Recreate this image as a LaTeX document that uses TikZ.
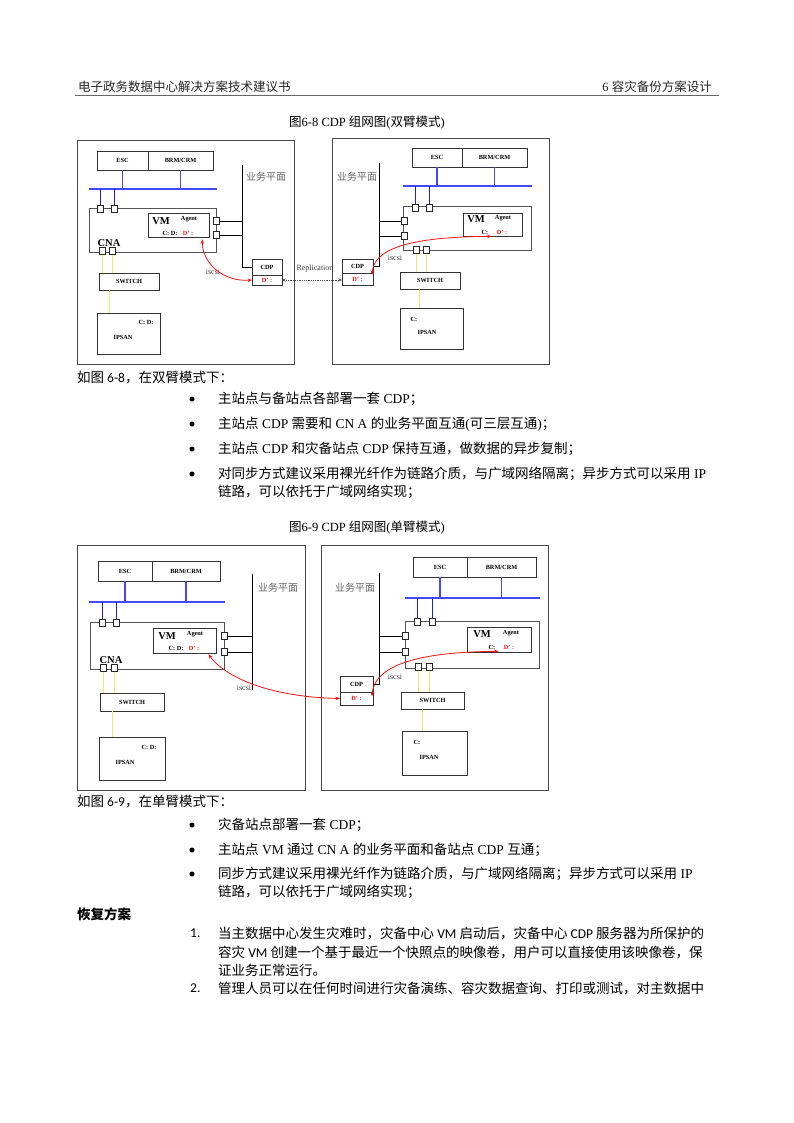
\documentclass[tikz,border=0pt]{standalone}
\usepackage{fontspec}
\setmainfont{Liberation Serif}
\newfontfamily\cjkfont{Noto Sans CJK SC}
\newfontfamily\calfont{Carlito}
\usetikzlibrary{arrows.meta}

\definecolor{buscol}{RGB}{70,70,250}
\definecolor{buscold}{RGB}{30,30,220}
\definecolor{ylwcol}{RGB}{240,232,110}
\definecolor{redcol}{RGB}{240,20,20}

% Latin words inside Chinese text
\newcommand\en[1]{{\rmfamily #1}}
\newcommand\ca[1]{{\calfont #1}}
% rectangle node from its corners: style, name, x1, y1, x2, y2, text
\newcommand\boxat[7]{\node[#1, anchor=north west, minimum width={#5-#3}, minimum height={#6-#4}] (#2) at (#3,#4) {#7};}

\tikzset{
  panel/.style={draw=black!72, line width=0.9, inner sep=0, outer sep=0},
  cell/.style={draw=black!80, line width=0.7, inner sep=0, outer sep=0, font=\bfseries\fontsize{6.3}{7}\selectfont},
  cnabox/.style={draw=black!68, line width=1.0, inner sep=0, outer sep=0},
  port/.style={draw=black!85, fill=white, line width=0.6, minimum width=6, minimum height=7, inner sep=0, outer sep=0},
  lbl/.style={inner sep=0, font=\bfseries\fontsize{6.3}{7}\selectfont},
  big/.style={inner sep=0, font=\bfseries\fontsize{10.5}{11}\selectfont},
  reddt/.style={lbl, text=redcol},
  plane/.style={inner sep=0, font=\cjkfont\fontsize{10}{11}\selectfont, text=black!60},
  smalltxt/.style={inner sep=0, font=\fontsize{8}{9}\selectfont, text=black!75},
  bus/.style={draw=buscol, line width=1.1},
  busd/.style={draw=buscold, line width=0.9},
  blk/.style={draw=black, line width=0.9},
  ylw/.style={draw=ylwcol, line width=0.8},
  redarc/.style={draw=redcol, line width=0.8, {Stealth[length=4.5pt,width=3.5pt]}-{Stealth[length=4.5pt,width=3.5pt]}},
  repl/.style={draw=black!70, line width=0.8, densely dotted, {Stealth[length=3.5pt,width=3pt]}-{Stealth[length=3.5pt,width=3pt]}},
  body/.style={anchor=west, inner sep=0, font=\cjkfont\fontsize{13.5}{16}\selectfont},
  hdr/.style={inner sep=0, font=\cjkfont\fontsize{12.5}{14}\selectfont, text=black!85},
  capt/.style={inner sep=0, font=\cjkfont\fontsize{12.5}{14}\selectfont},
  bul/.style={circle, fill=black, minimum size=5, inner sep=0}
}

\begin{document}
\begin{tikzpicture}[x=1pt, y=-1pt]
\useasboundingbox (0,0) rectangle (794,1123);
\fill[white] (0,0) rectangle (794,1123);

% ---------- running header ----------
\node[hdr, anchor=west] (h1) at (78,87) {电子政务数据中心解决方案技术建议书};
\node[hdr, anchor=east] (h2) at (712,87) {\en{6 }容灾备份方案设计};
\coordinate (hl1) at (75,95);
\coordinate (hl2) at (719,95);
\draw[black!60, line width=0.6] (hl1) -- (hl2);

% ---------- figure 6-8 ----------
\node[capt] (cap1) at (367,123) {图\en{6-8 CDP }组网图\en{(}双臂模式\en{)}};

% main site
\boxat{panel}{o1}{77}{140}{294}{364}{}
\boxat{cell}{e1}{97}{151}{148}{170}{ESC}
\boxat{cell}{m1}{148}{151}{213}{170}{BRM/CRM}
\coordinate (bus1w) at (89,189);
\coordinate (bus1e) at (217,189);
\draw[bus] (bus1w) -- (bus1e);
\draw[bus] (e1.south) -- (e1.south |- bus1w);
\draw[bus] (m1.south) -- (m1.south |- bus1w);
\boxat{cnabox}{n1}{89}{209}{216}{252}{}
\boxat{cell}{v1}{148}{213}{209}{237}{}
\node[port] (t1a) at (100,209) {};
\node[port] (t1b) at (114,209) {};
\draw[busd] (t1a.north |- bus1w) -- (t1a.north);
\draw[busd] (t1b.north |- bus1w) -- (t1b.north);
\node[port] (r1a) at (216,221) {};
\node[port] (r1b) at (216,235) {};
\node[port] (d1a) at (102,251) {};
\node[port] (d1b) at (112,251) {};
\node[big] (vm1) at (161,221) {VM};
\node[lbl] (ag1) at (189,219) {Agent};
\node[lbl] (cd1) at (170,233) {C: D:};
\node[reddt] (dv1) at (188,233) {D’ :};
\node[big] (cna1) at (109,243) {CNA};
\coordinate (z1) at (242,165);
\boxat{cell}{ca1}{252}{259}{282}{275}{CDP}
\boxat{cell, text=redcol}{cb1}{252}{275}{282}{285}{D’ :}
\draw[blk] (z1) |- (ca1.west);
\draw[blk] (r1a.east) -- (r1a.east -| z1);
\draw[blk] (r1b.east) -- (r1b.east -| z1);
\node[plane] (pl1) at (266,177) {业务平面};
\boxat{cell}{s1}{99}{273}{159}{290}{SWITCH}
\draw[ylw] (d1a.south) -- (d1a.south |- s1.north);
\draw[ylw] (d1b.south) -- (d1b.south |- s1.north);
\boxat{cell}{i1}{97}{313}{160}{354}{}
\node[lbl] (icd1) at (146,322) {C: D:};
\node[lbl] (ip1) at (123,337) {IPSAN};
\coordinate (y1) at ([xshift=-20]s1.south);
\draw[ylw] (y1) -- (y1 |- i1.north);
\node[smalltxt] (isc1) at (213,272) {iscsi};
\draw[redarc] ([shift={(9,4)}]dv1.south east) .. controls (202,262) and (222,282) .. (cb1.west);

% backup site
\boxat{panel}{o2}{332}{138}{549}{364}{}
\boxat{cell}{e2}{412}{148}{462}{167}{ESC}
\boxat{cell}{m2}{462}{148}{527}{167}{BRM/CRM}
\coordinate (bus2w) at (403,186);
\coordinate (bus2e) at (532,186);
\draw[bus] (bus2w) -- (bus2e);
\draw[bus] (e2.south) -- (e2.south |- bus2w);
\draw[bus] (m2.south) -- (m2.south |- bus2w);
\boxat{cnabox}{n2}{403}{207}{531}{250}{}
\boxat{cell}{v2}{463}{213}{522}{236}{}
\node[port] (t2a) at (415,208) {};
\node[port] (t2b) at (429,208) {};
\draw[busd] (t2a.north |- bus2w) -- (t2a.north);
\draw[busd] (t2b.north |- bus2w) -- (t2b.north);
\node[port] (l2a) at (404,221) {};
\node[port] (l2b) at (404,236) {};
\node[port] (d2a) at (416,250) {};
\node[port] (d2b) at (426,250) {};
\node[big] (vm2) at (476,219) {VM};
\node[lbl] (ag2) at (503,218) {Agent};
\node[lbl] (cd2) at (485,232) {C:};
\node[reddt] (dv2) at (502,232) {D’ :};
\coordinate (z2) at (379,163);
\boxat{cell}{ca2}{342}{259}{373}{273}{CDP}
\boxat{cell, text=redcol}{cb2}{342}{273}{373}{285}{D’ :}
\draw[blk] (z2) |- (ca2.east);
\draw[blk] (l2a.west) -- (l2a.west -| z2);
\draw[blk] (l2b.west) -- (l2b.west -| z2);
\node[plane] (pl2) at (357,177) {业务平面};
\boxat{cell}{s2}{400}{272}{460}{289}{SWITCH}
\draw[ylw] (d2a.south) -- (d2a.south |- s2.north);
\draw[ylw] (d2b.south) -- (d2b.south |- s2.north);
\boxat{cell}{i2}{400}{308}{463}{349}{}
\node[lbl] (icd2) at (414,319) {C:};
\node[lbl] (ip2) at (427,332) {IPSAN};
\coordinate (y2) at ([xshift=-11]s2.south);
\draw[ylw] (y2) -- (y2 |- i2.north);
\node[smalltxt] (isc2) at (395,258) {iscsi};
\draw[redarc] ([shift={(-1,2)}]cb2.north east) .. controls (374,250) and (405,237) .. ([shift={(-5,2)}]dv2.south west);

% replication between the two CDP servers
\draw[repl] (cb1.east) -- (cb1.east -| cb2.west);
\node[smalltxt] (rep) at (315,269) {Replication};

% ---------- text after figure 6-8 ----------
\node[body] (p1) at (77,378) {如图 \ca{6-8}，在双臂模式下：};
\node[bul] (b1) at (192,399) {};
\node[body] (p2) at (218,399) {主站点与备站点各部署一套\en{ CDP}；};
\node[bul] (b2) at (192,424) {};
\node[body] (p3) at (218,424) {主站点\en{ CDP }需要和\en{ CN A }的业务平面互通\en{(}可三层互通\en{)}；};
\node[bul] (b3) at (192,449) {};
\node[body] (p4) at (218,449) {主站点\en{ CDP }和灾备站点\en{ CDP }保持互通，做数据的异步复制；};
\node[bul] (b4) at (192,474) {};
\node[body] (p5) at (218,474) {对同步方式建议采用裸光纤作为链路介质，与广域网络隔离；异步方式可以采用\en{ IP}};
\node[body] (p6) at (218,492) {链路，可以依托于广域网络实现；};

% ---------- figure 6-9 ----------
\node[capt] (cap2) at (367,528) {图\en{6-9 CDP }组网图\en{(}单臂模式\en{)}};

% main site
\boxat{panel}{o3}{77}{545}{305}{790}{}
\boxat{cell}{e3}{98}{561}{152}{581}{ESC}
\boxat{cell}{m3}{152}{561}{220}{581}{BRM/CRM}
\coordinate (bus3w) at (89,602);
\coordinate (bus3e) at (225,602);
\draw[bus] (bus3w) -- (bus3e);
\draw[bus] (e3.south) -- (e3.south |- bus3w);
\draw[bus] (m3.south) -- (m3.south |- bus3w);
\boxat{cnabox}{n3}{90}{622}{224}{669}{}
\boxat{cell}{v3}{153}{628}{216}{653}{}
\node[port] (t3a) at (102,623) {};
\node[port] (t3b) at (116,623) {};
\draw[busd] (t3a.north |- bus3w) -- (t3a.north);
\draw[busd] (t3b.north |- bus3w) -- (t3b.north);
\node[port] (r3a) at (224,636) {};
\node[port] (r3b) at (224,652) {};
\node[port] (d3a) at (103,668) {};
\node[port] (d3b) at (114,668) {};
\node[big] (vm3) at (167,636) {VM};
\node[lbl] (ag3) at (195,634) {Agent};
\node[lbl] (cd3) at (176,648) {C: D:};
\node[reddt] (dv3) at (194,648) {D’ :};
\node[big] (cna3) at (111,660) {CNA};
\coordinate (z3) at (252,574);
\coordinate (z3b) at (252,690);
\draw[blk] (z3) -- (z3b);
\draw[blk] (r3a.east) -- (r3a.east -| z3);
\draw[blk] (r3b.east) -- (r3b.east -| z3);
\node[plane] (pl3) at (278,588) {业务平面};
\boxat{cell}{s3}{100}{693}{164}{711}{SWITCH}
\draw[ylw] (d3a.south) -- (d3a.south |- s3.north);
\draw[ylw] (d3b.south) -- (d3b.south |- s3.north);
\boxat{cell}{i3}{99}{737}{165}{780}{}
\node[lbl] (icd3) at (149,747) {C: D:};
\node[lbl] (ip3) at (125,762) {IPSAN};
\coordinate (y3) at ([xshift=-20]s3.south);
\draw[ylw] (y3) -- (y3 |- i3.north);
\node[smalltxt] (isc3) at (244,688) {iscsi};

% backup site
\boxat{panel}{o4}{321}{545}{548}{790}{}
\boxat{cell}{e4}{413}{557}{467}{577}{ESC}
\boxat{cell}{m4}{467}{557}{536}{577}{BRM/CRM}
\coordinate (bus4w) at (405,598);
\coordinate (bus4e) at (540,598);
\draw[bus] (bus4w) -- (bus4e);
\draw[bus] (e4.south) -- (e4.south |- bus4w);
\draw[bus] (m4.south) -- (m4.south |- bus4w);
\boxat{cnabox}{n4}{405}{621}{539}{668}{}
\boxat{cell}{v4}{467}{627}{531}{652}{}
\node[port] (t4a) at (417,622) {};
\node[port] (t4b) at (432,622) {};
\draw[busd] (t4a.north |- bus4w) -- (t4a.north);
\draw[busd] (t4b.north |- bus4w) -- (t4b.north);
\node[port] (l4a) at (405,636) {};
\node[port] (l4b) at (405,652) {};
\node[port] (d4a) at (418,667) {};
\node[port] (d4b) at (429,667) {};
\node[big] (vm4) at (482,634) {VM};
\node[lbl] (ag4) at (511,633) {Agent};
\node[lbl] (cd4) at (492,647) {C:};
\node[reddt] (dv4) at (509,647) {D’ :};
\coordinate (z4) at (379,573);
\boxat{cell}{ca4}{340}{676}{373}{692}{CDP}
\boxat{cell, text=redcol}{cb4}{340}{692}{373}{705}{D’ :}
\draw[blk] (z4) |- (ca4.east);
\draw[blk] (l4a.west) -- (l4a.west -| z4);
\draw[blk] (l4b.west) -- (l4b.west -| z4);
\node[plane] (pl4) at (355,588) {业务平面};
\boxat{cell}{s4}{401}{692}{464}{709}{SWITCH}
\draw[ylw] (d4a.south) -- (d4a.south |- s4.north);
\draw[ylw] (d4b.south) -- (d4b.south |- s4.north);
\boxat{cell}{i4}{402}{731}{467}{775}{}
\node[lbl] (icd4) at (417,742) {C:};
\node[lbl] (ip4) at (429,757) {IPSAN};
\coordinate (y4) at ([xshift=-10]s4.south);
\draw[ylw] (y4) -- (y4 |- i4.north);
\node[smalltxt] (isc4) at (395,677) {iscsi};

% iSCSI paths to the backup CDP
\draw[redarc] ([shift={(9,4)}]dv3.south east) .. controls (228,680) and (275,697) .. (cb4.west);
\draw[redarc] ([shift={(-1,-2)}]cb4.east) .. controls (374,670) and (405,652) .. ([shift={(-5,2)}]dv4.south west);

% ---------- text after figure 6-9 ----------
\node[body] (q1) at (77,802) {如图 \ca{6-9}，在单臂模式下：};
\node[bul] (c1) at (192,825) {};
\node[body] (q2) at (218,825) {灾备站点部署一套\en{ CDP}；};
\node[bul] (c2) at (192,850) {};
\node[body] (q3) at (218,850) {主站点\en{ VM }通过\en{ CN A }的业务平面和备站点\en{ CDP }互通；};
\node[bul] (c3) at (192,874) {};
\node[body] (q4) at (218,874) {同步方式建议采用裸光纤作为链路介质，与广域网络隔离；异步方式可以采用\en{ IP}};
\node[body] (q5) at (218,892) {链路，可以依托于广域网络实现；};

\node[body, font=\cjkfont\bfseries\fontsize{13.5}{16}\selectfont] (sec) at (77,914) {恢复方案};
\node[body] (n1l) at (190,933) {\ca{1.}};
\node[body] (r1) at (218,933) {当主数据中心发生灾难时，灾备中心\ca{ VM }启动后，灾备中心\ca{ CDP }服务器为所保护的};
\node[body] (r2) at (218,952) {容灾\ca{ VM }创建一个基于最近一个快照点的映像卷，用户可以直接使用该映像卷，保};
\node[body] (r3) at (218,970) {证业务正常运行。};
\node[body] (n2l) at (190,988) {\ca{2.}};
\node[body] (r4) at (218,988) {管理人员可以在任何时间进行灾备演练、容灾数据查询、打印或测试，对主数据中};
\end{tikzpicture}
\end{document}
